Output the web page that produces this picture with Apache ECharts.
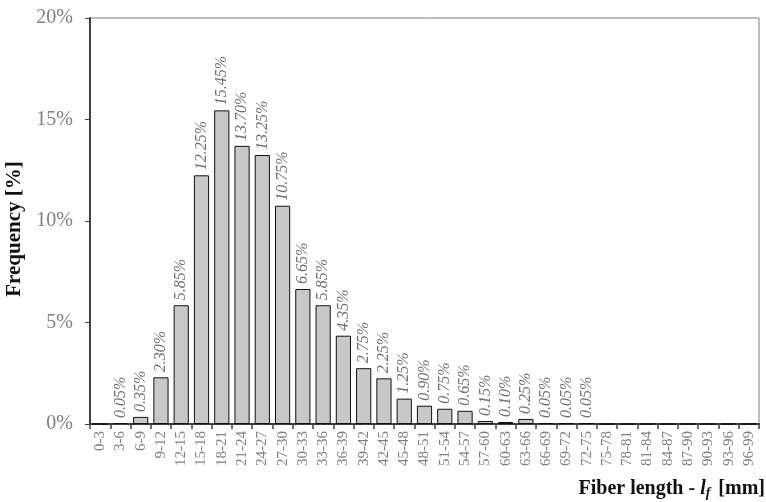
<!DOCTYPE html>
<html>
<head>
<meta charset="utf-8">
<script src="https://cdn.jsdelivr.net/npm/echarts@6/dist/echarts.min.js"></script>
<style>html,body{margin:0;padding:0;background:#fff}#c{width:766px;height:502px}</style>
</head>
<body>
<div id="c"></div>
<script>
const categories = ["0-3","3-6","6-9","9-12","12-15","15-18","18-21","21-24","24-27","27-30","30-33","33-36","36-39","39-42","42-45","45-48","48-51","51-54","54-57","57-60","60-63","63-66","66-69","69-72","72-75","75-78","78-81","81-84","84-87","87-90","90-93","93-96","96-99"];
const frequency = [0,0.05,0.35,2.30,5.85,12.25,15.45,13.70,13.25,10.75,6.65,5.85,4.35,2.75,2.25,1.25,0.90,0.75,0.65,0.15,0.10,0.25,0.05,0.05,0.05,0,0,0,0,0,0,0,0];
const yTicks = [0,5,10,15,20];

const chart = echarts.init(document.getElementById('c'), null, {renderer:'canvas'});
const serif = '"Liberation Serif","Times New Roman",serif';
chart.setOption({
  animation:false,
  grid:{left:90,right:7,top:18,bottom:78,containLabel:false,outerBoundsMode:'none',show:true,borderColor:'#7f7f7f',borderWidth:1},
  xAxis:{
    type:'category',
    data:categories,
    axisLine:{lineStyle:{color:'#404040',width:2}},
    axisTick:{show:true,alignWithLabel:false,length:5,lineStyle:{color:'#404040',width:1.5}},
    axisLabel:{rotate:90,color:'#808080',fontFamily:serif,fontSize:15,margin:7,interval:0}
  },
  yAxis:{
    type:'value',min:yTicks[0],max:yTicks[yTicks.length-1],interval:5,
    name:'Frequency [%]',nameLocation:'middle',nameGap:64,
    nameTextStyle:{fontFamily:serif,fontWeight:'bold',fontSize:21,color:'#111',padding:[0,16,0,0]},
    axisLine:{show:true,lineStyle:{color:'#404040',width:2}},
    axisTick:{show:true,inside:false,length:5,lineStyle:{color:'#404040'}},
    splitLine:{show:false},
    axisLabel:{formatter:v=>v+'%',color:'#808080',fontFamily:serif,fontSize:20,margin:17}
  },
  title:{
    text:'Fiber length - {i|l}{s|f} [mm]',
    right:0, top:475, padding:[2,1,2,2],
    textStyle:{fontFamily:serif,fontWeight:'bold',fontSize:20,color:'#111',
      rich:{
        i:{fontFamily:serif,fontWeight:'bold',fontStyle:'italic',fontSize:20,color:'#111'},
        s:{fontFamily:serif,fontWeight:'bold',fontStyle:'italic',fontSize:14,color:'#111',padding:[9,3,0,0]}
      }}
  },
  series:[{
    type:'bar',
    data:frequency,
    barCategoryGap:'25%',
    itemStyle:{color:'#c8c8c8',borderColor:'#111',borderWidth:1},
    label:{
      show:true,position:'top',rotate:90,align:'left',verticalAlign:'middle',distance:5,
      fontFamily:serif,fontStyle:'italic',fontSize:16,color:'#707070',
      formatter:p=>p.value>0?p.value.toFixed(2)+'%':''
    }
  }]
});
</script>
</body>
</html>
